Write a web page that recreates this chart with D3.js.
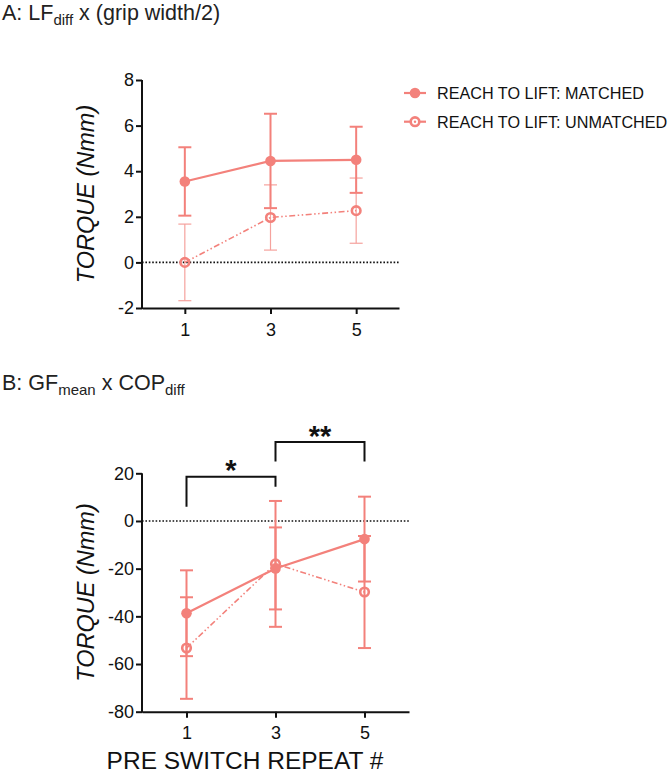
<!DOCTYPE html>
<html><head><meta charset="utf-8">
<script src="https://cdn.jsdelivr.net/npm/d3@7"></script>
<style>
html,body{margin:0;padding:0;background:#fff;}
svg{display:block;font-family:"Liberation Sans",Arial,sans-serif;}
</style></head>
<body><svg id="c" width="669" height="783"></svg>
<script>
// ---- data ----
const repeats = [1, 3, 5];
const xTicks = [1, 3, 5];
const seriesNames = ["REACH TO LIFT: MATCHED", "REACH TO LIFT: UNMATCHED"];

const aMatched = [3.55, 4.45, 4.5];
const aMatchedErr = [1.5, 2.07, 1.45];
const aUnmatched = [0.0, 1.97, 2.27];
const aUnmatchedErr = [1.68, 1.43, 1.43];
const aYTicks = [-2, 0, 2, 4, 6, 8];

const bMatched = [-38.7, -19.9, -7.6];
const bMatchedErr = [18.0, 17.2, 17.8];
const bUnmatched = [-53.3, -18.0, -29.8];
const bUnmatchedErr = [21.3, 26.4, 23.5];
const bYTicks = [-80, -60, -40, -20, 0, 20];

// significance comparisons in panel B (x from/to, bracket top, leg ends)
const sigFrom = [1, 3];
const sigTo = [3, 5];
const sigLabel = ["*", "**"];
const sigTop = [18.6, 33.1];
const sigLeftEnd = [6, 24.9];
const sigRightEnd = [14.4, 24.9];

// ---- drawing ----
const svg = d3.select("#c");
const COL = "#F3817B";
const COL_LIGHT = "#F5A29D";
const fmt = d => String(d);

function panel(opt) {
  const x = d3.scaleLinear().domain([0, 6]).range(opt.xr);
  const y = d3.scaleLinear().domain(opt.yd).range(opt.yr);
  const g = svg.append("g");

  // zero line
  g.append("line").attr("x1", x(0)).attr("x2", x(6)).attr("y1", y(0)).attr("y2", y(0))
    .attr("stroke", "#111").attr("stroke-width", 1.6).attr("stroke-dasharray", "1.6,1.8");

  // axes
  const ax = g.append("g").attr("transform", `translate(0,${opt.yr[0]})`)
    .call(d3.axisBottom(x).tickValues(xTicks).tickFormat(fmt).tickSize(6).tickSizeOuter(0).tickPadding(9));
  const ay = g.append("g").attr("transform", `translate(${opt.xr[0]},0)`)
    .call(d3.axisLeft(y).tickValues(opt.yTicks).tickFormat(fmt).tickSize(6).tickSizeOuter(0).tickPadding(2));
  [ax, ay].forEach(a => {
    a.select(".domain").attr("stroke", "#111").attr("stroke-width", 2);
    a.selectAll(".tick line").attr("stroke", "#111").attr("stroke-width", 2);
    a.selectAll(".tick text").attr("fill", "#111").attr("font-size", 18)
      .attr("font-family", "Liberation Sans, Arial, sans-serif");
  });
  ay.select(".domain").attr("d", `M0,${opt.yr[0] + 1}V${opt.yr[1]}`);

  // y label
  g.append("text").attr("transform", `translate(${opt.ylabX},${(opt.yr[0] + opt.yr[1]) / 2}) rotate(-90)`)
    .attr("text-anchor", "middle").attr("font-size", 23.5).attr("font-style", "italic")
    .attr("fill", "#111").text("TORQUE (Nmm)");

  const capW = 6.5;
  function errBars(vals, errs, color, w) {
    const eg = g.append("g").attr("stroke", color).attr("stroke-width", w).attr("fill", "none");
    repeats.forEach((r, i) => {
      const cx = x(r), t = y(vals[i] + errs[i]), b = y(vals[i] - errs[i]);
      eg.append("line").attr("x1", cx).attr("x2", cx).attr("y1", t).attr("y2", b);
      eg.append("line").attr("x1", cx - capW).attr("x2", cx + capW).attr("y1", t).attr("y2", t);
      eg.append("line").attr("x1", cx - capW).attr("x2", cx + capW).attr("y1", b).attr("y2", b);
    });
  }
  errBars(opt.un, opt.unErr, opt.unErrCol, opt.unErrW);
  errBars(opt.m, opt.mErr, COL, 2);

  const line = d3.line().x((d, i) => x(repeats[i])).y(d => y(d));
  g.append("path").datum(opt.un).attr("d", line).attr("fill", "none").attr("stroke", COL)
    .attr("stroke-width", 1.6).attr("stroke-dasharray", "6,2.5,1.5,2.5,1.5,2.5");
  g.append("path").datum(opt.m).attr("d", line).attr("fill", "none").attr("stroke", COL)
    .attr("stroke-width", 2.2);

  g.selectAll(".mu").data(opt.un).enter().append("circle")
    .attr("cx", (d, i) => x(repeats[i])).attr("cy", d => y(d)).attr("r", 4.3)
    .attr("fill", "none").attr("stroke", COL).attr("stroke-width", 2.6);
  g.selectAll(".mm").data(opt.m).enter().append("circle")
    .attr("cx", (d, i) => x(repeats[i])).attr("cy", d => y(d)).attr("r", 5.3)
    .attr("fill", COL);
  return { x, y, g };
}

// titles
function title(yb, main, sub1, rest, sub2) {
  const t = svg.append("text").attr("x", 2).attr("y", yb).attr("font-size", 21.5).attr("fill", "#222");
  t.append("tspan").text(main);
  t.append("tspan").attr("dy", 5).attr("font-size", 15).text(sub1);
  t.append("tspan").attr("dy", -5).text(rest);
  if (sub2) t.append("tspan").attr("dy", 5).attr("font-size", 15).text(sub2);
}
title(20, "A: LF", "diff", " x (grip width/2)");
title(390, "B: GF", "mean", " x COP", "diff");

panel({ xr: [142, 399], yd: [-2, 8], yr: [308, 80], yTicks: aYTicks, ylabX: 94,
  m: aMatched, mErr: aMatchedErr, un: aUnmatched, unErr: aUnmatchedErr,
  unErrCol: COL_LIGHT, unErrW: 1.2 });

const B = panel({ xr: [142, 409], yd: [-80, 20], yr: [711.7, 473.3], yTicks: bYTicks, ylabX: 94,
  m: bMatched, mErr: bMatchedErr, un: bUnmatched, unErr: bUnmatchedErr,
  unErrCol: COL, unErrW: 2 });

// significance brackets
sigFrom.forEach((f, i) => {
  const x1 = B.x(f), x2 = B.x(sigTo[i]);
  B.g.append("path")
    .attr("d", `M${x1},${B.y(sigLeftEnd[i])}V${B.y(sigTop[i])}H${x2}V${B.y(sigRightEnd[i])}`)
    .attr("fill", "none").attr("stroke", "#111").attr("stroke-width", 2);
  B.g.append("text").attr("x", (x1 + x2) / 2).attr("y", B.y(sigTop[i]) + 3.5)
    .attr("text-anchor", "middle").attr("font-size", 29).attr("font-weight", "bold")
    .attr("fill", "#111").text(sigLabel[i]);
});

// x axis title
svg.append("text").attr("x", 245).attr("y", 769).attr("text-anchor", "middle")
  .attr("font-size", 24.5).attr("fill", "#111").text("PRE SWITCH REPEAT #");

// legend
const lg = svg.append("g");
seriesNames.forEach((n, i) => {
  const yy = 93 + i * 28.7;
  lg.append("line").attr("x1", 404).attr("x2", 426).attr("y1", yy).attr("y2", yy)
    .attr("stroke", COL).attr("stroke-width", 2.2);
  if (i === 0) {
    lg.append("circle").attr("cx", 415).attr("cy", yy).attr("r", 5.3).attr("fill", COL);
  } else {
    lg.append("circle").attr("cx", 415).attr("cy", yy).attr("r", 4.3).attr("fill", "#fff")
      .attr("stroke", COL).attr("stroke-width", 2.6);
    lg.append("circle").attr("cx", 415).attr("cy", yy).attr("r", 1.2).attr("fill", COL);
  }
  lg.append("text").attr("x", 437).attr("y", yy + 5.8).attr("font-size", 16.2)
    .attr("fill", "#111").text(n);
});
</script></body></html>
